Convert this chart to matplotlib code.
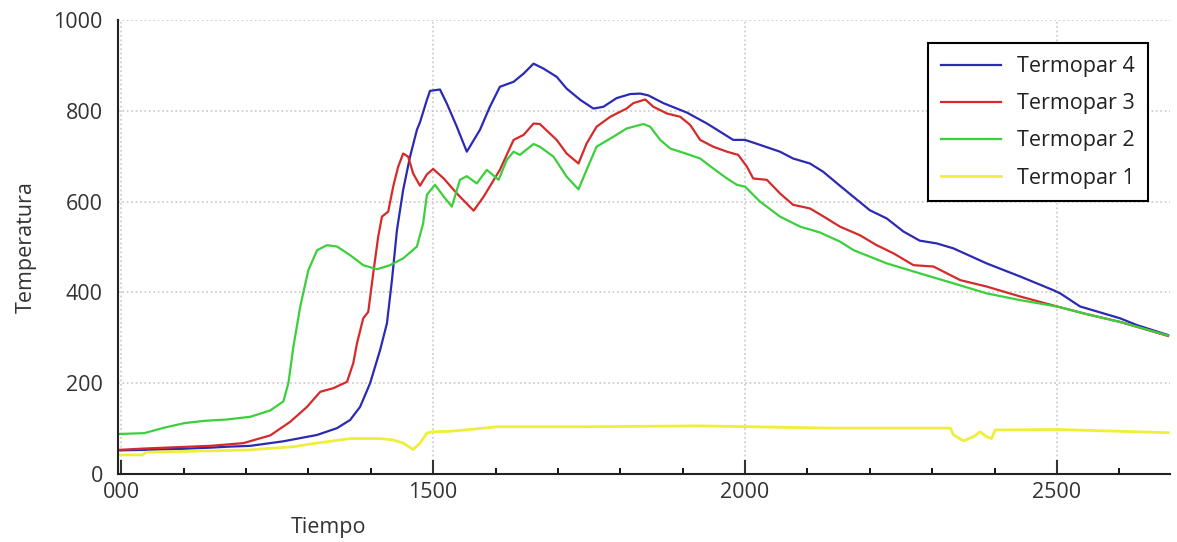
import matplotlib.pyplot as plt
from matplotlib.ticker import MultipleLocator

plt.rcParams['font.family'] = ['Open Sans', 'DejaVu Sans']

# Termopar 4
t4_x = [995, 1036, 1089, 1143, 1169, 1207, 1260, 1314, 1346, 1367, 1383, 1399, 1415, 1426, 1434,
        1442, 1452, 1463, 1474, 1479, 1490, 1495, 1511, 1522, 1538, 1554, 1575, 1591, 1607, 1629,
        1645, 1661, 1677, 1698, 1714, 1736, 1757, 1773, 1794, 1816, 1832, 1845, 1869, 1907, 1939,
        1960, 1981, 2000, 2024, 2056, 2077, 2104, 2125, 2152, 2200, 2227, 2254, 2280, 2307, 2334,
        2387, 2441, 2494, 2505, 2537, 2601, 2628, 2678]
t4_y = [52, 53, 55, 58, 60, 62, 72, 86, 101, 119, 148, 200, 273, 332, 427,
        537, 626, 699, 758, 775, 824, 844, 847, 816, 765, 710, 758, 809, 853, 864,
        882, 904, 893, 875, 849, 824, 805, 809, 828, 837, 838, 834, 817, 796, 772,
        754, 736, 736, 725, 710, 695, 684, 666, 635, 581, 563, 534, 514, 508, 497,
        464, 435, 405, 398, 369, 343, 328, 306]

# Termopar 3
t3_x = [995, 1036, 1089, 1143, 1196, 1239, 1271, 1298, 1319, 1340, 1362, 1372, 1378, 1388, 1396,
        1404, 1412, 1418, 1428, 1436, 1444, 1452, 1460, 1468, 1479, 1490, 1500, 1517, 1538, 1565,
        1581, 1607, 1629, 1645, 1661, 1671, 1698, 1714, 1733, 1746, 1762, 1784, 1810, 1821, 1840,
        1853, 1875, 1896, 1912, 1928, 1949, 1971, 1989, 2003, 2013, 2035, 2056, 2077, 2104, 2126,
        2152, 2184, 2211, 2238, 2270, 2302, 2345, 2387, 2441, 2500, 2548, 2601, 2678]
t3_y = [53, 56, 59, 62, 68, 85, 115, 148, 181, 189, 203, 244, 288, 343, 357,
        442, 523, 567, 578, 633, 677, 706, 699, 662, 635, 660, 672, 651, 618, 580,
        611, 670, 736, 747, 772, 771, 736, 706, 684, 728, 765, 787, 805, 817, 825,
        809, 794, 787, 769, 736, 721, 710, 703, 677, 651, 648, 618, 593, 585, 567,
        545, 526, 504, 486, 460, 457, 427, 413, 391, 369, 352, 335, 304]

# Termopar 2
t2_x = [995, 1037, 1069, 1101, 1133, 1169, 1207, 1239, 1260, 1268, 1276, 1287, 1300, 1314, 1330,
        1346, 1367, 1388, 1410, 1431, 1452, 1474, 1484, 1490, 1503, 1517, 1530, 1543, 1554, 1570,
        1586, 1605, 1618, 1629, 1639, 1661, 1671, 1693, 1714, 1733, 1746, 1762, 1789, 1810, 1837,
        1848, 1864, 1880, 1907, 1928, 1949, 1971, 1987, 2000, 2024, 2056, 2088, 2120, 2152, 2174,
        2227, 2280, 2334, 2387, 2441, 2500, 2548, 2601, 2678]
t2_y = [88, 90, 102, 112, 117, 120, 126, 140, 160, 200, 280, 369, 449, 493, 504,
        501, 482, 460, 451, 460, 475, 501, 552, 615, 637, 611, 589, 648, 656, 640,
        670, 648, 692, 710, 703, 727, 721, 699, 655, 627, 670, 721, 743, 761, 771,
        765, 736, 717, 705, 695, 673, 651, 637, 633, 600, 567, 545, 532, 512, 493,
        464, 442, 420, 398, 383, 369, 352, 335, 305]

# Termopar 1
t1_x = [995, 1034, 1040, 1143, 1207, 1223, 1276, 1303, 1367, 1415, 1436, 1452, 1468, 1479, 1490,
        1500, 1527, 1559, 1602, 1736, 1928, 2141, 2329, 2334, 2350, 2366, 2377, 2387, 2395, 2401,
        2500, 2678]
t1_y = [42, 42, 48, 51, 53, 55, 60, 66, 78, 78, 75, 68, 54, 68, 90,
        93, 94, 98, 104, 104, 106, 101, 101, 86, 73, 82, 93, 82, 78, 97,
        98, 91]

x_ticks = [1000, 1500, 2000, 2500]
x_tick_labels = ['000', '1500', '2000', '2500']
y_ticks = [0, 200, 400, 600, 800, 1000]

fig = plt.figure(figsize=(11.77, 5.42), dpi=100)
ax = fig.add_axes([0.1003, 0.1255, 0.8937, 0.8375])

l4, = ax.plot(t4_x, t4_y, color='#2a2ab4', lw=1.6, label='Termopar 4')
l3, = ax.plot(t3_x, t3_y, color='#d62a2a', lw=1.6, label='Termopar 3')
l2, = ax.plot(t2_x, t2_y, color='#3ccf3c', lw=1.6, label='Termopar 2')
l1, = ax.plot(t1_x, t1_y, color='#efef3a', lw=2.0, label='Termopar 1')

ax.set_xlim(995, 2681)
ax.set_ylim(0, 1000)
ax.set_xticks(x_ticks, x_tick_labels)
ax.set_yticks(y_ticks)
ax.xaxis.set_minor_locator(MultipleLocator(100))
ax.tick_params(axis='x', which='major', direction='in', length=10, width=1.5,
               labelsize=15.5, colors='#333333', pad=6)
ax.tick_params(axis='x', which='minor', direction='in', length=4, width=1.3)
ax.tick_params(axis='y', length=0, labelsize=15.5, colors='#333333', pad=11)

ax.grid(True, which='major', color='#c8c8c8', linestyle=':', linewidth=1.2)
for s in ['top', 'right']:
    ax.spines[s].set_visible(False)
for s in ['left', 'bottom']:
    ax.spines[s].set_linewidth(1.5)
    ax.spines[s].set_color('#222222')

ax.set_xlabel('Tiempo', fontsize=15.5, color='#333333')
ax.xaxis.set_label_coords(0.2, -0.095)
ax.set_ylabel('Temperatura', fontsize=15.5, color='#333333')
ax.yaxis.set_label_coords(-0.077, 0.5)

leg = ax.legend(handles=[l4, l3, l2, l1], loc='upper right', bbox_to_anchor=(0.979, 0.949),
                borderaxespad=0, fontsize=15.5, fancybox=False, framealpha=1,
                edgecolor='black', handlelength=2.8, handletextpad=0.75,
                labelspacing=0.75, borderpad=0.6)
leg.get_frame().set_linewidth(1.5)
for t in leg.get_texts():
    t.set_color('#222222')

fig.savefig('out.png', dpi=100)
